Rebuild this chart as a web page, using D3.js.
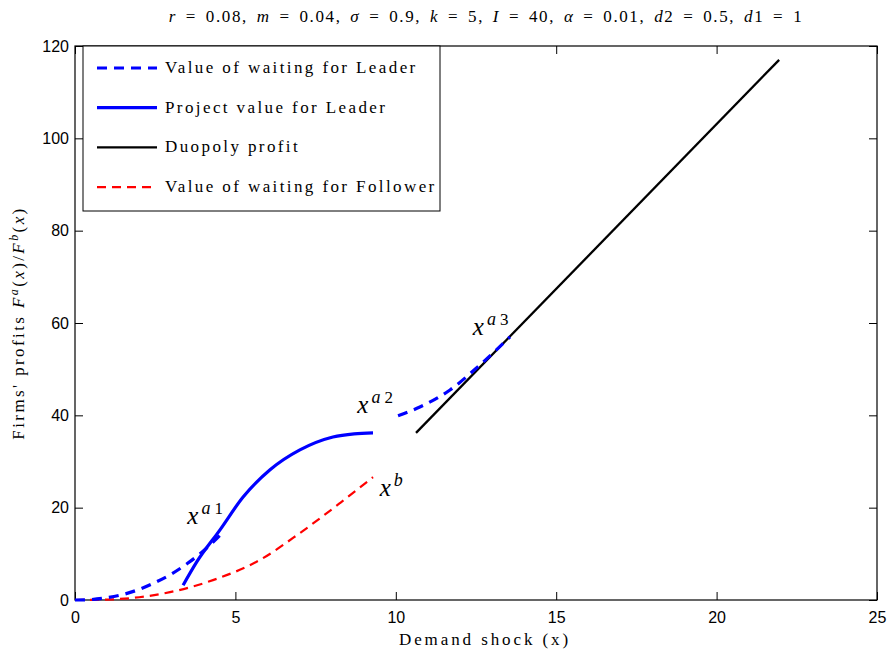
<!DOCTYPE html>
<html>
<head>
<meta charset="utf-8">
<script src="https://cdn.jsdelivr.net/npm/d3@7"></script>
<style>
  body { margin: 0; background: #fff; }
  text { fill: #000; }
</style>
</head>
<body>
<div id="chart"></div>
<script>
// data
var leaderWaitA = [[0,0],[0.5,0.1],[1,0.5],[1.5,1.2],[2,2.3],[2.5,3.8],[3,5.6],[3.5,7.9],[4,10.6],[4.6,14.6]];
var leaderWaitB = [[10.07,39.9],[10.75,41.8],[11.69,45.5],[12.62,50.9],[13.56,57.0]];
var leaderProject = [[3.37,3.2],[3.8,8.3],[4.52,15.2],[5.24,22.3],[6.08,28.2],[7.01,32.5],[8.04,35.3],[8.7,36.0],[9.29,36.2]];
var duopoly = [[10.63,36.2],[21.95,117]];
var followerWait = [[0,0],[1,0.1],[2,0.6],[2.96,1.7],[4.3,4.3],[5.77,8.7],[7.01,14.5],[8.26,21.0],[9.29,26.6]];
var xTicks = [0, 5, 10, 15, 20, 25];
var yTicks = [0, 20, 40, 60, 80, 100, 120];

// set the dimensions and margins of the graph
var margin = {top: 46, right: 14, bottom: 57, left: 75},
    width = 891 - margin.left - margin.right,
    height = 657 - margin.top - margin.bottom;

var svg = d3.select("#chart")
  .append("svg")
    .attr("width", 891)
    .attr("height", 657)
  .append("g")
    .attr("transform", "translate(" + margin.left + "," + margin.top + ")");

var x = d3.scaleLinear().domain([0, 25]).range([0, width]);
var y = d3.scaleLinear().domain([0, 120]).range([height, 0]);

var serif = "'Liberation Serif', 'DejaVu Serif', serif";

// axes, ticks inward on all four sides
function styleAxis(g) {
  g.select(".domain").remove();
  g.selectAll(".tick line").attr("stroke", "#000");
  g.selectAll(".tick text").style("font-family", "'Liberation Sans', Arial, sans-serif").style("font-size", "16px");
}
svg.append("g").attr("transform", "translate(0," + height + ")")
  .call(d3.axisBottom(x).tickValues(xTicks).tickSize(-8).tickPadding(12)).call(styleAxis);
svg.append("g")
  .call(d3.axisLeft(y).tickValues(yTicks).tickSize(-8).tickPadding(6)).call(styleAxis);
svg.append("g")
  .call(d3.axisTop(x).tickValues(xTicks).tickSize(-8).tickFormat("")).call(styleAxis);
svg.append("g").attr("transform", "translate(" + width + ",0)")
  .call(d3.axisRight(y).tickValues(yTicks).tickSize(-8).tickFormat("")).call(styleAxis);

svg.append("rect")
  .attr("width", width).attr("height", height)
  .style("fill", "none").style("stroke", "#000").style("stroke-width", 1.2);

var line = d3.line().x(function (d) { return x(d[0]); }).y(function (d) { return y(d[1]); }).curve(d3.curveMonotoneX);

var series = [
  {data: followerWait, color: "#ff0000", w: 2.2, dash: "9,6"},
  {data: duopoly, color: "#000", w: 2.3, dash: null},
  {data: leaderProject, color: "#0000ff", w: 3.2, dash: null},
  {data: leaderWaitA, color: "#0000ff", w: 3.2, dash: "10,7"},
  {data: leaderWaitB, color: "#0000ff", w: 3.2, dash: "10,7"}
];
svg.selectAll(".series")
  .data(series)
  .enter()
  .append("path")
    .attr("d", function (d) { return line(d.data); })
    .style("fill", "none")
    .style("stroke", function (d) { return d.color; })
    .style("stroke-width", function (d) { return d.w; })
    .style("stroke-dasharray", function (d) { return d.dash; });

// point labels
var marks = [
  {px: 3.5, py: 16.5, sup: "a", sub: "1"},
  {px: 8.8, py: 40.5, sup: "a", sub: "2"},
  {px: 9.5, py: 22.5, sup: "b", sub: ""},
  {px: 12.4, py: 57.5, sup: "a", sub: "3"}
];
marks.forEach(function (m) {
  var t = svg.append("text")
    .attr("x", x(m.px)).attr("y", y(m.py))
    .style("font-family", serif).style("font-size", "25px");
  t.append("tspan").style("font-style", "italic").text("x");
  t.append("tspan").attr("dy", -10).attr("dx", 3).style("font-style", "italic").style("font-size", "18px").text(m.sup);
  t.append("tspan").attr("dx", 4).style("font-size", "17px").text(m.sub);
});

// legend
var legendItems = [
  {name: "Value of waiting for Leader", color: "#0000ff", w: 3.2, dash: "10,7"},
  {name: "Project value for Leader", color: "#0000ff", w: 3.2, dash: null},
  {name: "Duopoly profit", color: "#000", w: 2.3, dash: null},
  {name: "Value of waiting for Follower", color: "#ff0000", w: 2.2, dash: "9,6"}
];
var lg = svg.append("g").attr("transform", "translate(8,0)");
lg.append("rect").attr("width", 357).attr("height", 165)
  .style("fill", "#fff").style("stroke", "#000").style("stroke-width", 1);
legendItems.forEach(function (d, i) {
  var yy = 22 + i * 39.7;
  lg.append("line").attr("x1", 14).attr("x2", 74).attr("y1", yy).attr("y2", yy)
    .style("stroke", d.color).style("stroke-width", d.w).style("stroke-dasharray", d.dash);
  lg.append("text").attr("x", 82).attr("y", yy + 5)
    .style("font-family", serif).style("font-size", "17px").style("letter-spacing", "2.4px")
    .text(d.name);
});

// title and axis labels
var root = d3.select("svg");
root.append("text")
  .attr("x", 486).attr("y", 22)
  .attr("text-anchor", "middle")
  .style("font-family", serif).style("font-size", "17px").style("letter-spacing", "1.6px").style("word-spacing", "3px")
  .html("<tspan font-style='italic'>r</tspan> = 0.08, <tspan font-style='italic'>m</tspan> = 0.04, <tspan font-style='italic'>σ</tspan> = 0.9, <tspan font-style='italic'>k</tspan> = 5, <tspan font-style='italic'>I</tspan> = 40, <tspan font-style='italic'>α</tspan> = 0.01, <tspan font-style='italic'>d</tspan>2 = 0.5, <tspan font-style='italic'>d</tspan>1 = 1");

root.append("text")
  .attr("x", 485).attr("y", 645)
  .attr("text-anchor", "middle")
  .style("font-family", serif).style("font-size", "17px").style("letter-spacing", "2.9px")
  .text("Demand shock (x)");

root.append("text")
  .attr("transform", "translate(24," + (margin.top + height / 2) + ") rotate(-90)")
  .attr("text-anchor", "middle")
  .style("font-family", serif).style("font-size", "17px").style("letter-spacing", "2.4px")
  .html("Firms' profits <tspan font-style='italic'>F</tspan><tspan dy='-6' font-size='12' font-style='italic'>a</tspan><tspan dy='6'>(</tspan><tspan font-style='italic'>x</tspan>)/<tspan font-style='italic'>F</tspan><tspan dy='-6' font-size='12' font-style='italic'>b</tspan><tspan dy='6'>(</tspan><tspan font-style='italic'>x</tspan>)");
</script>
</body>
</html>
